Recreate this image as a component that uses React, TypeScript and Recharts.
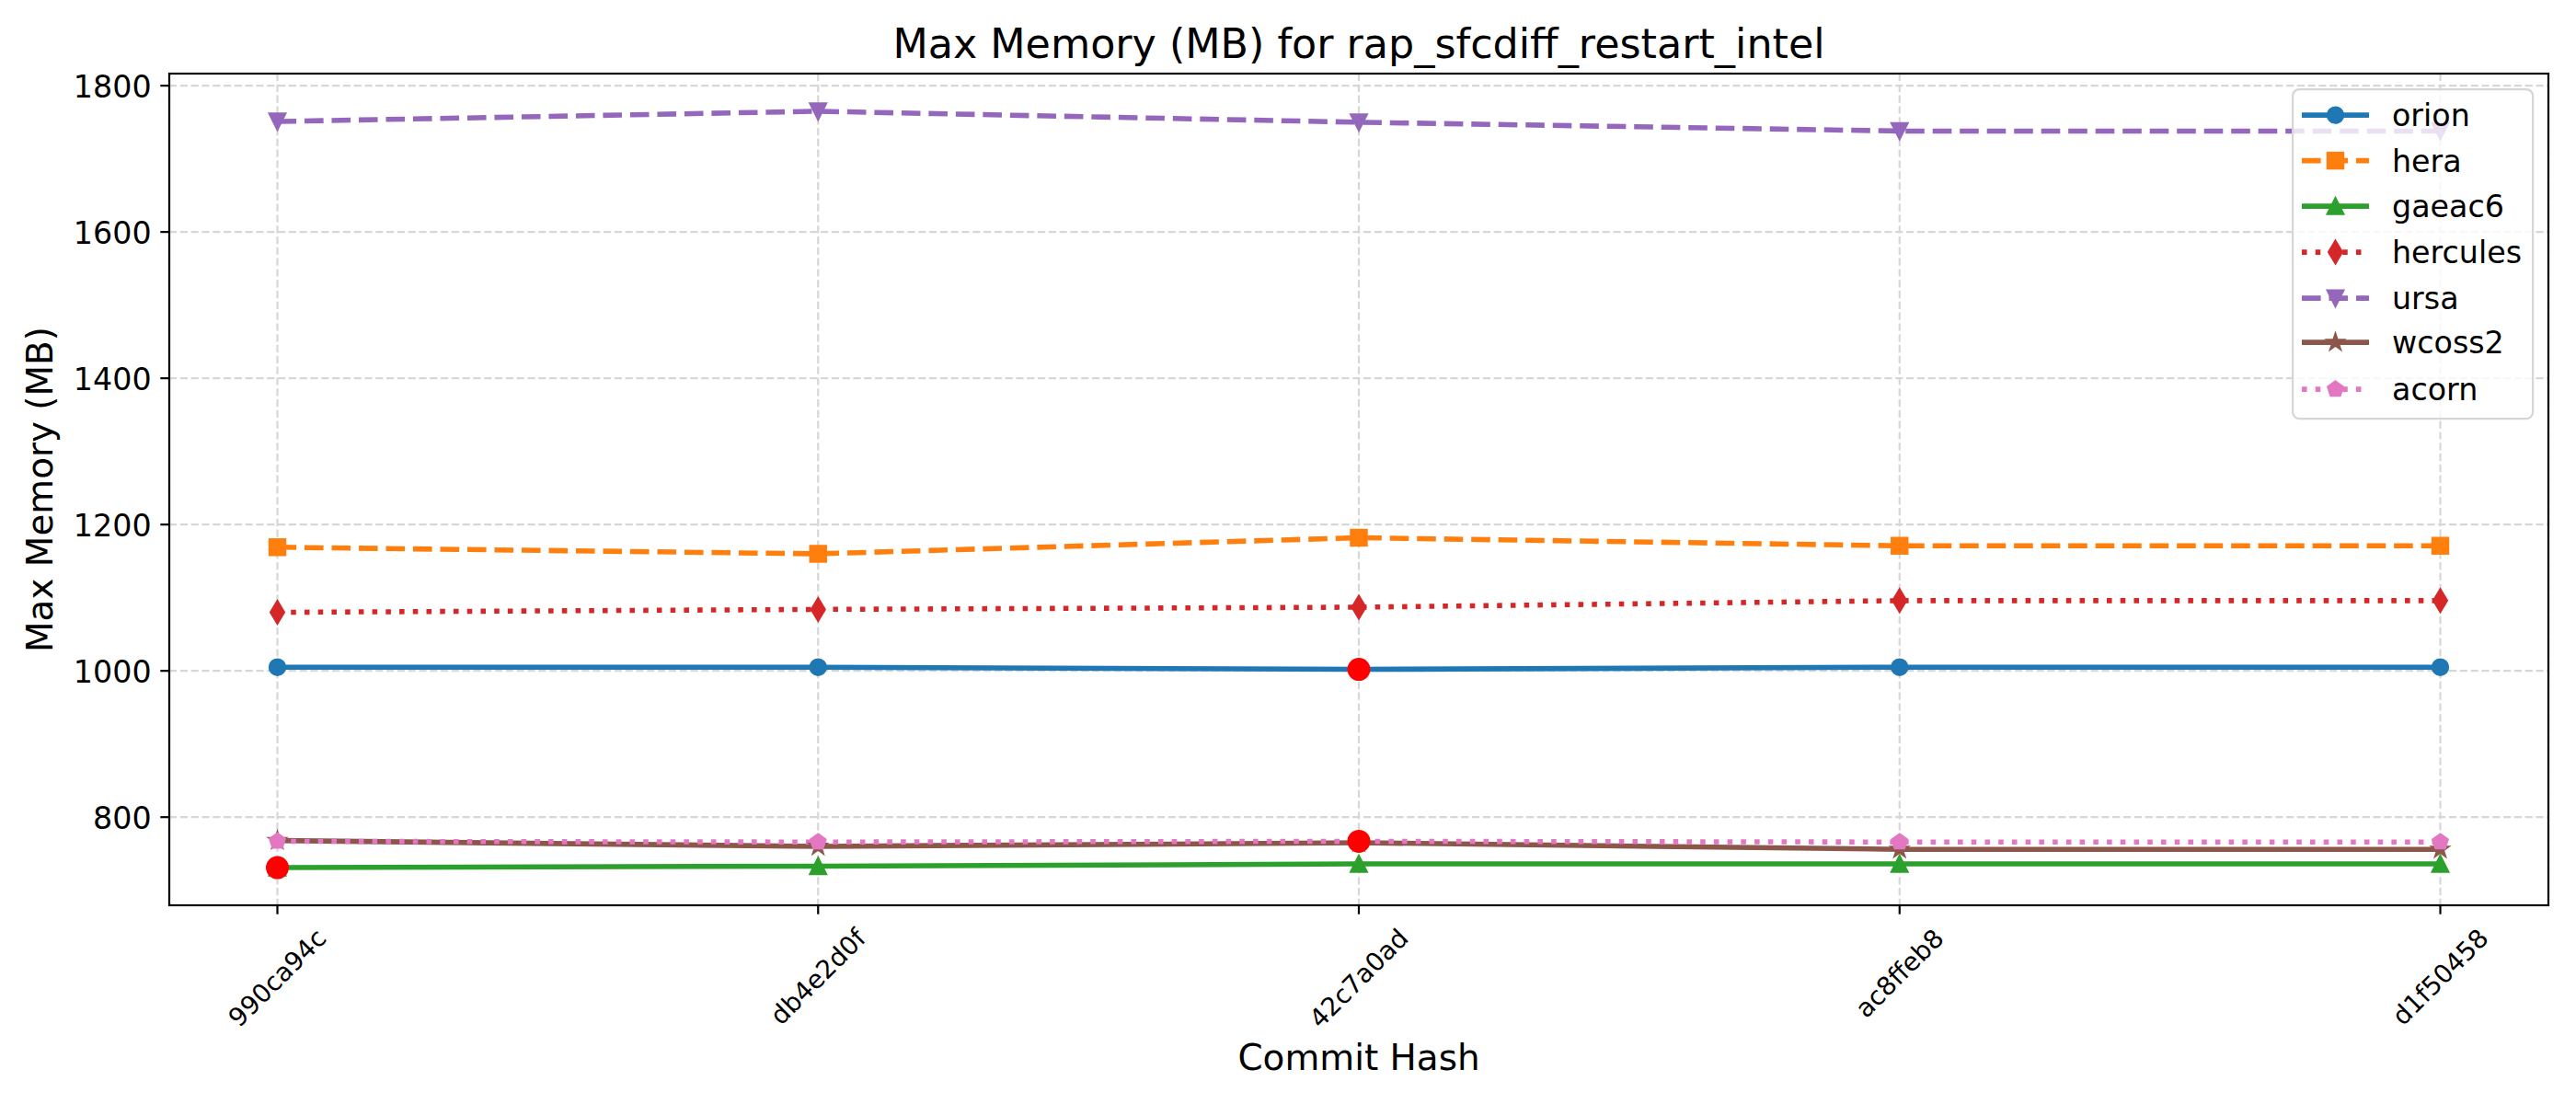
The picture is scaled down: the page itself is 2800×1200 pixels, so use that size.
import React from 'react';
import { LineChart, Line, XAxis, YAxis, CartesianGrid, Legend } from 'recharts';

// ---------- data ----------
const commits = ['990ca94c', 'db4e2d0f', '42c7a0ad', 'ac8ffeb8', 'd1f50458'];
const orion = [1005, 1005, 1002, 1005, 1005];
const hera = [1169, 1160, 1182, 1171, 1171];
const gaeac6 = [731, 733, 736, 736, 736];
const hercules = [1080, 1084, 1087, 1096, 1096];
const ursa = [1751, 1765, 1750, 1738, 1738];
const wcoss2 = [768, 760, 765, 756, 756];
const acorn = [767, 766, 767, 766, 766];

const seriesNames = ['orion', 'hera', 'gaeac6', 'hercules', 'ursa', 'wcoss2', 'acorn'];
const seriesValues = [orion, hera, gaeac6, hercules, ursa, wcoss2, acorn];
const seriesColors = ['#1f77b4', '#ff7f0e', '#2ca02c', '#d62728', '#9467bd', '#8c564b', '#e377c2'];
const seriesDashes = ['', '20.6 8.9', '', '5.56 9.17', '20.6 8.9', '', '5.56 9.17'];
const seriesMarkers = ['circle', 'square', 'triangleUp', 'thinDiamond', 'triangleDown', 'star', 'pentagon'];

// highlighted (flagged) points: [series, commit]
const anomalies: [string, string][] = [
  ['gaeac6', '990ca94c'],
  ['orion', '42c7a0ad'],
  ['acorn', '42c7a0ad'],
];

const yTicks = [800, 1000, 1200, 1400, 1600, 1800];
const yDomain: [number, number] = [679.5, 1816.5];

const titleText = 'Max Memory (MB) for rap_sfcdiff_restart_intel';
const xLabelText = 'Commit Hash';
const yLabelText = 'Max Memory (MB)';

// ---------- build table ----------
const anomalySeries = Array.from(new Set(anomalies.map((a) => a[0])));
const data = commits.map((c, i) => {
  const row: Record<string, any> = { commit: c };
  seriesNames.forEach((n, k) => {
    row[n] = seriesValues[k][i];
  });
  anomalySeries.forEach((n) => {
    const k = seriesNames.indexOf(n);
    const flagged = anomalies.some((a) => a[0] === n && a[1] === c);
    row['hl_' + n] = flagged ? seriesValues[k][i] : null;
  });
  return row;
});

// ---------- style constants ----------
const FONT = '"DejaVu Sans", "Liberation Sans", sans-serif';
const LW = 5.56;
const MS = 16.67;
const EW = 2.78;
const PLOT_L = 184;
const PLOT_R = 2770;
const PLOT_T = 80;
const PLOT_B = 984;

const charW: Record<string, number> = {
  '0': 0.636, '1': 0.636, '2': 0.636, '3': 0.636, '4': 0.636, '5': 0.636, '6': 0.636, '7': 0.636, '8': 0.636, '9': 0.636,
  a: 0.613, b: 0.635, c: 0.55, d: 0.635, e: 0.615, f: 0.352,
};
const emWidth = (s: string) => s.split('').reduce((acc, ch) => acc + (charW[ch] ?? 0.6), 0);

function markerShape(shape: string, cx: number, cy: number, color: string, key: string) {
  const h = MS / 2;
  const common = { fill: color, stroke: color, strokeWidth: EW, strokeLinejoin: 'miter' as const };
  switch (shape) {
    case 'circle':
      return <circle key={key} cx={cx} cy={cy} r={h} {...common} />;
    case 'square':
      return <rect key={key} x={cx - h} y={cy - h} width={MS} height={MS} {...common} />;
    case 'triangleUp':
      return <polygon key={key} points={`${cx},${cy - h} ${cx - h},${cy + h} ${cx + h},${cy + h}`} {...common} />;
    case 'triangleDown':
      return <polygon key={key} points={`${cx},${cy + h} ${cx - h},${cy - h} ${cx + h},${cy - h}`} {...common} />;
    case 'thinDiamond': {
      const dy = 0.7071 * MS;
      const dx = 0.6 * dy;
      return <polygon key={key} points={`${cx},${cy - dy} ${cx + dx},${cy} ${cx},${cy + dy} ${cx - dx},${cy}`} {...common} />;
    }
    case 'star': {
      const pts: string[] = [];
      for (let k = 0; k < 10; k++) {
        const r = k % 2 === 0 ? h : h * 0.381966;
        const a = ((-90 + 36 * k) * Math.PI) / 180;
        pts.push(`${cx + r * Math.cos(a)},${cy + r * Math.sin(a)}`);
      }
      return <polygon key={key} points={pts.join(' ')} {...common} />;
    }
    case 'pentagon': {
      const pts: string[] = [];
      for (let k = 0; k < 5; k++) {
        const a = ((-90 + 72 * k) * Math.PI) / 180;
        pts.push(`${cx + h * Math.cos(a)},${cy + h * Math.sin(a)}`);
      }
      return <polygon key={key} points={pts.join(' ')} {...common} />;
    }
    default:
      return <circle key={key} cx={cx} cy={cy} r={h} {...common} />;
  }
}

const makeDot = (shape: string, color: string, name: string) => (props: any) => {
  const { cx, cy, index, value } = props;
  const key = `dot-${name}-${index}`;
  if (cx == null || cy == null || value == null) return <g key={key} />;
  return markerShape(shape, cx, cy, color, key);
};

const makeHighlightDot = (name: string) => (props: any) => {
  const { cx, cy, index, value } = props;
  const key = `hl-${name}-${index}`;
  if (cx == null || cy == null || value == null) return <g key={key} />;
  return <circle key={key} cx={cx} cy={cy} r={11.1} fill="#ff0000" stroke="#ff0000" strokeWidth={EW} />;
};

const XTick = (props: any) => {
  const { x, y, payload } = props;
  const label = String(payload.value);
  const f = 27.8;
  const L = emWidth(label) * f;
  const cy = y + 0.3536 * (L + 1.164 * f);
  return (
    <text
      x={x}
      y={cy}
      transform={`rotate(-45 ${x} ${cy})`}
      textAnchor="middle"
      dominantBaseline="central"
      fontSize={f}
      fontFamily={FONT}
      fill="#000"
    >
      {label}
    </text>
  );
};

const YTick = (props: any) => {
  const { x, y, payload } = props;
  return (
    <text x={x} y={y + 12.5} textAnchor="end" fontSize={33.3} fontFamily={FONT} fill="#000">
      {payload.value}
    </text>
  );
};

const LegendBox = () => {
  const w = 261;
  const h = 358;
  const rows = [28, 77.5, 127, 177, 227, 275, 326];
  return (
    <svg width={w + 4} height={h + 4} style={{ overflow: 'visible', display: 'block' }}>
      <rect x={1.1} y={1.1} width={w} height={h} rx={7} ry={7} fill="rgba(255,255,255,0.8)" stroke="#d6d6d6" strokeWidth={2.2} />
      {seriesNames.map((n, k) => {
        const cy = rows[k] + 1.1;
        return (
          <g key={`lg-${n}`}>
            <line
              x1={11}
              x2={84}
              y1={cy}
              y2={cy}
              stroke={seriesColors[k]}
              strokeWidth={LW}
              strokeDasharray={seriesDashes[k] || undefined}
            />
            {markerShape(seriesMarkers[k], 47.5, cy, seriesColors[k], `lgm-${n}`)}
            <text x={109} y={cy + 12} fontSize={33.3} fontFamily={FONT} fill="#000">
              {n}
            </text>
          </g>
        );
      })}
    </svg>
  );
};

export default function App() {
  return (
    <div style={{ position: 'absolute', left: 0, top: 0, width: 2800, height: 1200, background: '#fff' }}>
      <LineChart
        width={2800}
        height={1200}
        data={data}
        margin={{ top: PLOT_T, right: 2800 - PLOT_R, bottom: 0, left: 0 }}
      >
        <CartesianGrid stroke="#d7d7d7" strokeWidth={2.2} strokeDasharray="8.2 3.6" />
        <XAxis
          dataKey="commit"
          type="category"
          height={1200 - PLOT_B}
          padding={{ left: 117.5, right: 117.5 }}
          axisLine={false}
          tickLine={{ stroke: '#000', strokeWidth: 2.2 }}
          tickSize={9.7}
          tickMargin={9.7}
          tick={<XTick />}
          interval={0}
        />
        <YAxis
          type="number"
          width={PLOT_L}
          domain={yDomain}
          ticks={yTicks}
          allowDataOverflow
          axisLine={false}
          tickLine={{ stroke: '#000', strokeWidth: 2.2 }}
          tickSize={9.7}
          tickMargin={9.7}
          tick={<YTick />}
        />
        {seriesNames.map((n, k) => (
          <Line
            key={n}
            dataKey={n}
            type="linear"
            stroke={seriesColors[k]}
            strokeWidth={LW}
            strokeDasharray={seriesDashes[k] || undefined}
            strokeLinejoin="round"
            dot={makeDot(seriesMarkers[k], seriesColors[k], n)}
            activeDot={false}
            isAnimationActive={false}
          />
        ))}
        {anomalySeries.map((n) => (
          <Line
            key={'hl_' + n}
            dataKey={'hl_' + n}
            type="linear"
            stroke="none"
            legendType="none"
            dot={makeHighlightDot(n)}
            activeDot={false}
            isAnimationActive={false}
          />
        ))}
        <Legend
          layout="horizontal"
          verticalAlign="middle"
          align="center"
          content={() => <LegendBox />}
          wrapperStyle={{ left: 2491, top: 96, width: 265, height: 362, margin: 0, padding: 0 }}
        />
      </LineChart>
      <svg
        width={2800}
        height={1200}
        style={{ position: 'absolute', left: 0, top: 0, pointerEvents: 'none' }}
      >
        <rect
          x={PLOT_L}
          y={PLOT_T}
          width={PLOT_R - PLOT_L}
          height={PLOT_B - PLOT_T}
          fill="none"
          stroke="#000"
          strokeWidth={2.2}
        />
        <text x={(PLOT_L + PLOT_R) / 2} y={63} textAnchor="middle" fontSize={44.4} fontFamily={FONT} fill="#000">
          {titleText}
        </text>
        <text x={(PLOT_L + PLOT_R) / 2} y={1163} textAnchor="middle" fontSize={38.9} fontFamily={FONT} fill="#000">
          {xLabelText}
        </text>
        <text
          transform={`translate(57, ${(PLOT_T + PLOT_B) / 2}) rotate(-90)`}
          textAnchor="middle"
          fontSize={38.9}
          fontFamily={FONT}
          fill="#000"
        >
          {yLabelText}
        </text>
      </svg>
    </div>
  );
}
